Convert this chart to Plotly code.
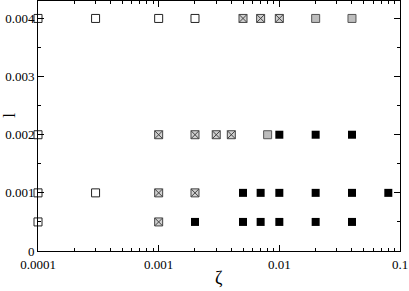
import plotly.graph_objects as go

# open squares
open_x = [0.0001, 0.0003, 0.001, 0.002, 0.0001, 0.0001, 0.0003, 0.0001]
open_y = [0.004, 0.004, 0.004, 0.004, 0.002, 0.001, 0.001, 0.0005]

# crossed squares
crossed_x = [0.005, 0.007, 0.01, 0.001, 0.002, 0.003, 0.004, 0.001, 0.002, 0.001]
crossed_y = [0.004, 0.004, 0.004, 0.002, 0.002, 0.002, 0.002, 0.001, 0.001, 0.0005]

# gray squares
gray_x = [0.02, 0.04, 0.008]
gray_y = [0.004, 0.004, 0.002]

# black squares
black_x = [0.01, 0.02, 0.04,
           0.005, 0.007, 0.01, 0.02, 0.04, 0.08,
           0.002, 0.005, 0.007, 0.01, 0.02, 0.04]
black_y = [0.002, 0.002, 0.002,
           0.001, 0.001, 0.001, 0.001, 0.001, 0.001,
           0.0005, 0.0005, 0.0005, 0.0005, 0.0005, 0.0005]

y_ticks = [0, 0.001, 0.002, 0.003, 0.004]
y_ticktext = ["0", "0.001", "0.002", "0.003", "0.004"]
x_ticks = [0.0001, 0.001, 0.01, 0.1]
x_ticktext = ["0.0001", "0.001", "0.01", "0.1"]
x_minor = [m * 10 ** e for e in (-4, -3, -2) for m in range(2, 10)]
y_minor = [0.0005, 0.0015, 0.0025, 0.0035]

fig = go.Figure()
fig.add_trace(go.Scatter(x=open_x, y=open_y, mode="markers", cliponaxis=False,
                         marker=dict(symbol="square-open", size=8, color="#222",
                                     line=dict(width=1, color="#222"))))
fig.add_trace(go.Scatter(x=crossed_x, y=crossed_y, mode="markers", cliponaxis=False,
                         marker=dict(symbol="square-x", size=8, color="#d0d0d0",
                                     line=dict(width=1, color="#444"))))
fig.add_trace(go.Scatter(x=gray_x, y=gray_y, mode="markers", cliponaxis=False,
                         marker=dict(symbol="square", size=8, color="#bdbdbd",
                                     line=dict(width=1, color="#555"))))
fig.add_trace(go.Scatter(x=black_x, y=black_y, mode="markers", cliponaxis=False,
                         marker=dict(symbol="square", size=8, color="black",
                                     line=dict(width=0, color="black"))))

fam = "Liberation Serif, Times New Roman, serif"
font = dict(family=fam, size=13, color="black")

fig.update_layout(
    width=409, height=291,
    margin=dict(l=38, r=9, t=1, b=40),
    paper_bgcolor="white", plot_bgcolor="white",
    showlegend=False,
    font=font,
    xaxis=dict(type="log", range=[-4, -1], tickvals=x_ticks, ticktext=x_ticktext,
               ticks="inside", ticklen=6, tickcolor="black", tickwidth=1,
               showline=True, linecolor="black", linewidth=1, mirror="allticks",
               showgrid=False, zeroline=False, ticklabelstandoff=1,
               ticklabeloverflow="allow",
               minor=dict(tickvals=x_minor, ticks="inside", ticklen=3,
                          tickcolor="black", showgrid=False)),
    yaxis=dict(range=[0, 0.0043], tickvals=y_ticks, ticktext=y_ticktext,
               ticks="inside", ticklen=6, tickcolor="black", tickwidth=1,
               showline=True, linecolor="black", linewidth=1, mirror="allticks",
               showgrid=False, zeroline=False, ticklabelstandoff=0,
               ticklabeloverflow="allow",
               minor=dict(tickvals=y_minor, ticks="inside", ticklen=3,
                          tickcolor="black", showgrid=False)),
    annotations=[
        dict(text="ζ", xref="paper", yref="paper", x=0.5, y=-0.108,
             xanchor="center", yanchor="middle", showarrow=False,
             font=dict(family=fam, size=18, color="black")),
        dict(text="l", xref="paper", yref="paper", x=-0.078, y=0.544,
             xanchor="center", yanchor="middle", showarrow=False, textangle=-90,
             font=dict(family=fam, size=17, color="black")),
    ],
)

fig.write_html("out.html", config={"displayModeBar": False},
               post_script="document.body.style.margin='0px';document.body.style.overflow='hidden';")
